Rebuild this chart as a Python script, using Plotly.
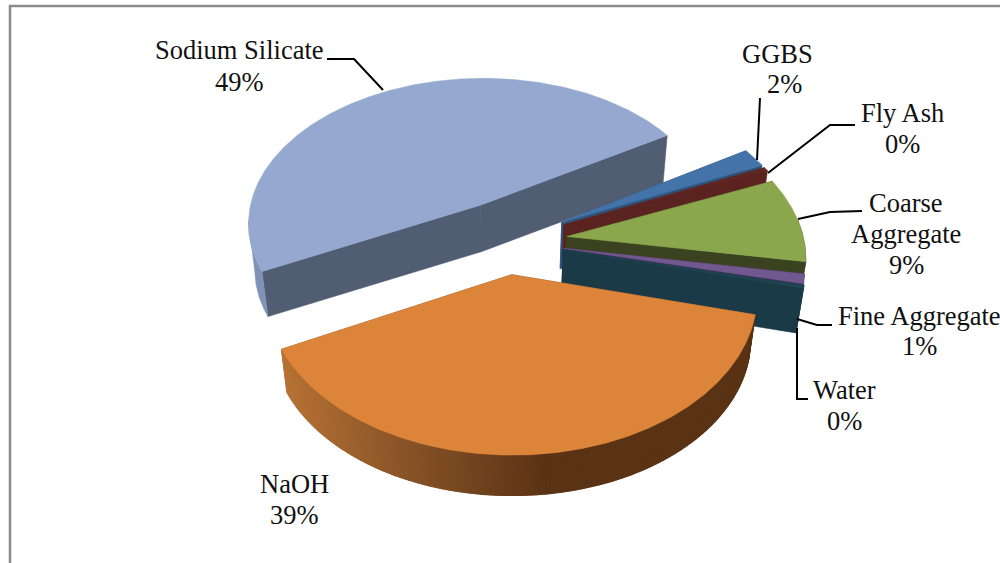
import numpy as np
import plotly.graph_objects as go

# ---- data ----
names = ["GGBS", "Fly Ash", "Coarse Aggregate", "Fine Aggregate", "Water", "NaOH", "Sodium Silicate"]
values = [2.0, 0.4, 9.0, 1.0, 0.3, 38.7, 48.6]
pct_labels = ["2%", "0%", "9%", "1%", "0%", "39%", "49%"]

# ---- styles ----
top_cols = ["#4373A8", "#5F2623", "#8AA74E", "#71588F", "#1F4553", "#DD843B", "#95A9D0"]
radial_cols = ["#2F5279", "#5A2320", "#3A421F", "#3E2F52", "#1A3A47", "#7A4A20", "#505D72"]
wall_cols = ["#2F5279", "#5A2320", "#3A421F", "#3E2F52", "#1A3A47", None, "#7F93B8"]
pulls = [0.27, 0.27, 0.26, 0.245, 0.247, 0.22, 0.27]
pull_dirs = [None, None, None, None, None, None, 114.0]

START = 31.5
CX, CY, F, G, K = 506.0, 241.0, 237.0, 150.0, 0.12
VPX, VPY, T = 500.0, 2070.0, 0.025

def top(X, Y):
    d = 1 + K * Y
    return CX + F * X / d, CY - G * Y / d

def bottom(sx, sy):
    return sx + (VPX - sx) * T, sy + (VPY - sy) * T

def lerp_col(x):
    xs = [280, 400, 550, 800]
    rs = [184, 138, 90, 90]
    gs = [115, 85, 51, 51]
    bs = [53, 40, 21, 21]
    return "rgb(%d,%d,%d)" % (np.interp(x, xs, rs), np.interp(x, xs, gs), np.interp(x, xs, bs))

fig = go.Figure()

def poly(xs, ys, col, w=0.6):
    xs, ys = list(xs), list(ys)
    fig.add_trace(go.Scatter(x=xs + xs[:1], y=ys + ys[:1], mode="lines", fill="toself",
                             fillcolor=col, line=dict(color=col, width=w),
                             hoverinfo="skip", showlegend=False))

# angular spans, clockwise from START
total = sum(values)
spans, a = [], START
for v in values:
    b = a - v / total * 360
    spans.append((a, b))
    a = b

# painter's order: silicate at the back, then the small group, then NaOH
order = [6, 0, 1, 2, 3, 4, 5]
for i in order:
    a0, a1 = spans[i]
    mid = np.radians(pull_dirs[i] if pull_dirs[i] is not None else (a0 + a1) / 2)
    ox, oy = pulls[i] * np.cos(mid), pulls[i] * np.sin(mid)
    th = np.radians(np.linspace(a0, a1, max(4, int(abs(a1 - a0) * 2))))
    sx, sy = top(ox + np.cos(th), oy + np.sin(th))
    bx, by = bottom(sx, sy)
    ax, ay = top(ox, oy)
    abx, aby = bottom(ax, ay)
    # radial walls
    poly([ax, sx[0], bx[0], abx], [ay, sy[0], by[0], aby], radial_cols[i])
    poly([ax, sx[-1], bx[-1], abx], [ay, sy[-1], by[-1], aby], radial_cols[i])
    # outer wall (front-facing part only)
    idx = [j for j in range(len(th) - 1) if sy[j] >= CY - 20 or sy[j + 1] >= CY - 20]
    if wall_cols[i]:
        if idx:
            j0, j1 = idx[0], idx[-1] + 1
            poly(list(sx[j0:j1 + 1]) + list(bx[j0:j1 + 1])[::-1],
                 list(sy[j0:j1 + 1]) + list(by[j0:j1 + 1])[::-1], wall_cols[i])
    else:
        for j in idx:
            poly([sx[j], sx[j + 1], bx[j + 1], bx[j]], [sy[j], sy[j + 1], by[j + 1], by[j]],
                 lerp_col((sx[j] + sx[j + 1]) / 2), 1.2)
    # top face
    poly([ax] + list(sx), [ay] + list(sy), top_cols[i])

# leader lines
leaders = [
    ([327, 354, 383], [59, 59, 90]),
    ([760, 757], [98, 160]),
    ([855, 830, 768], [125, 125, 173]),
    ([862, 830, 798], [211, 212, 219]),
    ([832, 817, 797], [325, 325, 319]),
    ([797, 797, 808], [328, 399, 399]),
]
for lx, ly in leaders:
    fig.add_trace(go.Scatter(x=lx, y=ly, mode="lines", line=dict(color="#000000", width=2),
                             hoverinfo="skip", showlegend=False))

# labels: (lines, x centre, y of first line)
label_lines = [
    (["GGBS"], 777, 54), (["Fly Ash"], 902, 113),
    (["Coarse", "Aggregate"], 906, 203), (["Fine Aggregate"], 919, 316),
    (["Water"], 844, 390), (["NaOH"], 294, 484), (["Sodium Silicate"], 239, 50),
]
pct_pos = [(784, 84), (902, 144), (906, 265), (919, 346), (844, 421), (294, 515), (239, 82)]
anns = []
def label(t, x, y):
    anns.append(dict(text=t, x=x, y=y, xref="x", yref="y", showarrow=False,
                     xanchor="center", yanchor="middle",
                     font=dict(family="Liberation Serif", size=26.5, color="#111111")))
for (lines, x, y), p, (px, py) in zip(label_lines, pct_labels, pct_pos):
    for k, t in enumerate(lines):
        label(t, x, y + k * 31)
    label(p, px, py)

shapes = [
    dict(type="line", xref="x", yref="y", x0=9, x1=1000, y0=6, y1=6, line=dict(color="#8A8A8A", width=2.5)),
    dict(type="line", xref="x", yref="y", x0=10, x1=10, y0=5, y1=563, line=dict(color="#8A8A8A", width=2.5)),
]

fig.update_layout(
    width=1000, height=563, margin=dict(l=0, r=0, t=0, b=0),
    paper_bgcolor="white", plot_bgcolor="white", showlegend=False,
    annotations=anns, shapes=shapes,
    xaxis=dict(range=[0, 1000], visible=False, fixedrange=True),
    yaxis=dict(range=[563, 0], visible=False, fixedrange=True),
)
fig.write_html("out.html", config={"displayModeBar": False},
               post_script="document.body.style.margin='0';")
